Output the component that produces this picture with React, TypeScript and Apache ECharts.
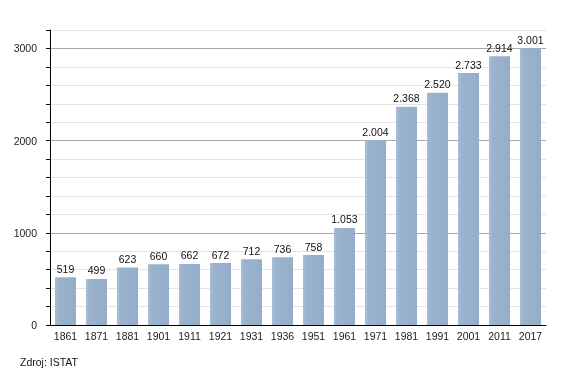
import React, { useEffect, useRef } from "react";
import * as echarts from "echarts";

const years = ["1861", "1871", "1881", "1901", "1911", "1921", "1931", "1936", "1951", "1961", "1971", "1981", "1991", "2001", "2011", "2017"];
const population = [519, 499, 623, 660, 662, 672, 712, 736, 758, 1053, 2004, 2368, 2520, 2733, 2914, 3001];
const sourceText = "Zdroj: ISTAT";

const fmt = (v: number) => {
  const s = String(v);
  return s.length > 3 ? s.slice(0, s.length - 3) + "." + s.slice(s.length - 3) : s;
};

export default function App() {
  const ref = useRef<HTMLDivElement>(null);
  useEffect(() => {
    const chart = echarts.init(ref.current!, null, { renderer: "svg" });
    const gridColors: string[] = [];
    for (let i = 0; i < 5; i++) gridColors.push(i === 0 ? "#a8a8a8" : "#e4e4e4");
    chart.setOption({
      animation: false,
      textStyle: { fontFamily: "Liberation Sans, Arial, sans-serif" },
      grid: { left: 50, right: 24, top: 30, bottom: 48 },
      xAxis: {
        type: "category",
        data: years,
        axisLine: { lineStyle: { color: "#000", width: 1 } },
        axisTick: { show: false },
        axisLabel: { color: "#222", fontSize: 10.5, margin: 5, interval: 0 },
      },
      yAxis: {
        type: "value",
        min: 0,
        max: 3200,
        interval: 200,
        axisLine: { show: true, lineStyle: { color: "#000", width: 1 } },
        axisTick: { show: true, length: 4, lineStyle: { color: "#000" } },
        axisLabel: {
          color: "#222",
          fontSize: 10.5,
          margin: 13,
          formatter: (v: number) => (v % 1000 === 0 ? String(v) : ""),
        },
        splitLine: { show: true, lineStyle: { color: gridColors, width: 1 } },
      },
      series: [
        {
          type: "bar",
          data: population,
          barCategoryGap: "32%",
          itemStyle: {
            color: new echarts.graphic.LinearGradient(0, 0, 1, 0, [
              { offset: 0, color: "#a9bfd6" },
              { offset: 0.15, color: "#9bb3cd" },
              { offset: 1, color: "#94adc9" },
            ]),
          },
          label: {
            show: true,
            position: "top",
            distance: 3,
            color: "#111",
            fontSize: 10.5,
            formatter: (p: any) => fmt(p.value),
          },
        },
      ],
      graphic: [
        {
          type: "text",
          left: 20,
          top: 356,
          style: { text: sourceText, fill: "#111", fontSize: 10.5, fontFamily: "Liberation Sans, Arial, sans-serif" },
        },
      ],
    });
    return () => chart.dispose();
  }, []);
  return <div ref={ref} style={{ position: "fixed", left: 0, top: 0, width: 570, height: 373 }} />;
}
